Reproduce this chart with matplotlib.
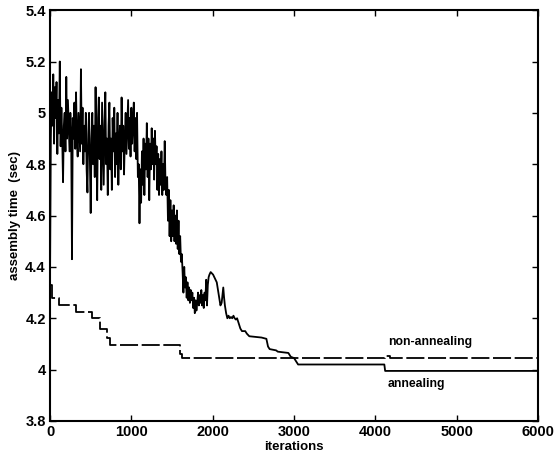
import numpy as np
import matplotlib
matplotlib.use('Agg')
import matplotlib.pyplot as plt

plt.rcParams['font.family'] = ['Liberation Sans', 'DejaVu Sans']

# annealing run: noisy early phase, one reading every 10 iterations (0..1620)
noisy_iter = np.arange(0, 1621, 10)
noisy_vals = [4.35, 4.90, 5.08, 4.95, 5.15, 4.88, 5.10, 4.98, 5.12, 4.84,
              5.05, 4.92, 5.20, 4.87, 5.02, 4.90, 4.73, 4.95, 5.00, 4.85,
              5.14, 4.90, 5.05, 4.95, 4.85, 5.00, 4.92, 4.43, 4.98, 4.90,
              5.04, 4.86, 5.08, 4.90, 4.83, 5.00, 4.92, 4.85, 5.17, 4.88,
              5.02, 4.80, 4.95, 4.85, 5.00, 4.78, 4.69, 4.92, 5.00, 4.82,
              4.61, 4.90, 5.00, 4.80, 4.95, 4.75, 5.10, 4.85, 4.66, 4.98,
              5.06, 4.82, 4.95, 4.70, 5.04, 4.88, 4.72, 4.96, 5.08, 4.80,
              4.90, 4.68, 4.95, 5.04, 4.78, 4.90, 4.70, 4.98, 4.85, 5.02,
              4.75, 4.92, 4.80, 5.00, 4.72, 4.88, 4.95, 4.78, 5.06, 4.85,
              4.95, 4.76, 4.90, 5.00, 4.84, 4.95, 5.05, 4.86, 4.98, 4.83,
              5.02, 4.88, 4.95, 5.04, 4.85, 4.98, 4.82, 5.00, 4.75, 4.80,
              4.57, 4.78, 4.65, 4.85, 4.72, 4.90, 4.68, 4.88, 4.78, 4.96,
              4.75, 4.90, 4.66, 4.88, 4.78, 4.94, 4.80, 4.90, 4.74, 4.93,
              4.80, 4.87, 4.70, 4.84, 4.68, 4.82, 4.72, 4.85, 4.68, 4.80,
              4.70, 4.89, 4.72, 4.68, 4.75, 4.58, 4.70, 4.52, 4.66, 4.50,
              4.62, 4.52, 4.64, 4.50, 4.60, 4.49, 4.62, 4.47, 4.58, 4.45,
              4.52, 4.42, 4.45]
assert len(noisy_vals) == len(noisy_iter)

# annealing run after the big drop
tail_iter = [1630, 1640, 1650, 1660, 1670, 1680, 1690, 1700, 1710, 1720,
             1730, 1740, 1750, 1760, 1770, 1780, 1790, 1800, 1810, 1820,
             1830, 1840, 1850, 1860, 1870, 1880, 1890, 1900, 1910, 1920,
             1930, 1940, 1950, 1960, 1975, 1990, 2005, 2020, 2035, 2050,
             2065, 2080, 2095, 2110, 2120, 2130, 2140, 2150, 2165, 2180,
             2195, 2210, 2225, 2240, 2255, 2270, 2285, 2300, 2320, 2340,
             2360, 2400, 2420, 2450, 2600, 2660, 2680, 2700, 2780, 2800,
             2930, 2960, 3000, 3030, 3050, 4110, 4120, 6000]
tail_vals = [4.38, 4.30, 4.40, 4.32, 4.36, 4.28, 4.34, 4.27, 4.32, 4.26,
             4.31, 4.27, 4.30, 4.24, 4.28, 4.22, 4.27, 4.23, 4.26, 4.30,
             4.25, 4.29, 4.26, 4.31, 4.25, 4.29, 4.24, 4.30, 4.27, 4.35,
             4.25, 4.33, 4.36, 4.37, 4.38, 4.375, 4.37, 4.36, 4.35, 4.34,
             4.31, 4.28, 4.25, 4.26, 4.29, 4.32, 4.28, 4.25, 4.22, 4.20,
             4.21, 4.20, 4.205, 4.20, 4.21, 4.20, 4.195, 4.20, 4.18, 4.16,
             4.15, 4.15, 4.14, 4.13, 4.125, 4.12, 4.09, 4.08, 4.075, 4.07,
             4.065, 4.05, 4.045, 4.03, 4.02, 4.02, 3.995, 3.995]

# non-annealing run (step levels)
nonann_iter = [0, 30, 110, 320, 510, 610, 700, 740, 1600, 1620, 4120, 4180, 6000]
nonann_vals = [4.33, 4.28, 4.25, 4.225, 4.20, 4.16, 4.125, 4.095, 4.06, 4.045,
               4.052, 4.045, 4.045]

ann_iter = np.concatenate([noisy_iter, tail_iter])
ann_vals = np.concatenate([noisy_vals, tail_vals])

fig = plt.figure(figsize=(5.57, 4.57), dpi=100)
ax = fig.add_axes([0.0898, 0.0788, 0.8762, 0.899])

ax.plot(ann_iter, ann_vals, color='black', lw=1.3)
ax.step(nonann_iter, nonann_vals, where='post', color='black', lw=1.3,
        dashes=(10, 2))

ax.text(4160, 4.107, 'non-annealing', fontsize=8.8, fontweight='bold', va='center')
ax.text(4145, 3.944, 'annealing', fontsize=8.8, fontweight='bold', va='center')

ax.set_xlim(0, 6000)
ax.set_ylim(3.8, 5.4)
ax.set_xticks([0, 1000, 2000, 3000, 4000, 5000, 6000])
ax.set_yticks([3.8, 4, 4.2, 4.4, 4.6, 4.8, 5, 5.2, 5.4])
ax.set_yticklabels(['3.8', '4', '4.2', '4.4', '4.6', '4.8', '5', '5.2', '5.4'])
ax.tick_params(direction='in', top=True, right=True, length=4, width=1,
               labelsize=10.5, pad=3)
for lab in ax.get_xticklabels() + ax.get_yticklabels():
    lab.set_fontweight('bold')
for sp in ax.spines.values():
    sp.set_linewidth(1.5)

ax.set_xlabel('iterations', fontsize=9.5, fontweight='bold', labelpad=1)
ax.set_ylabel('assembly time  (sec)', fontsize=9.5, fontweight='bold', labelpad=3)

fig.savefig('out.png', dpi=100)
